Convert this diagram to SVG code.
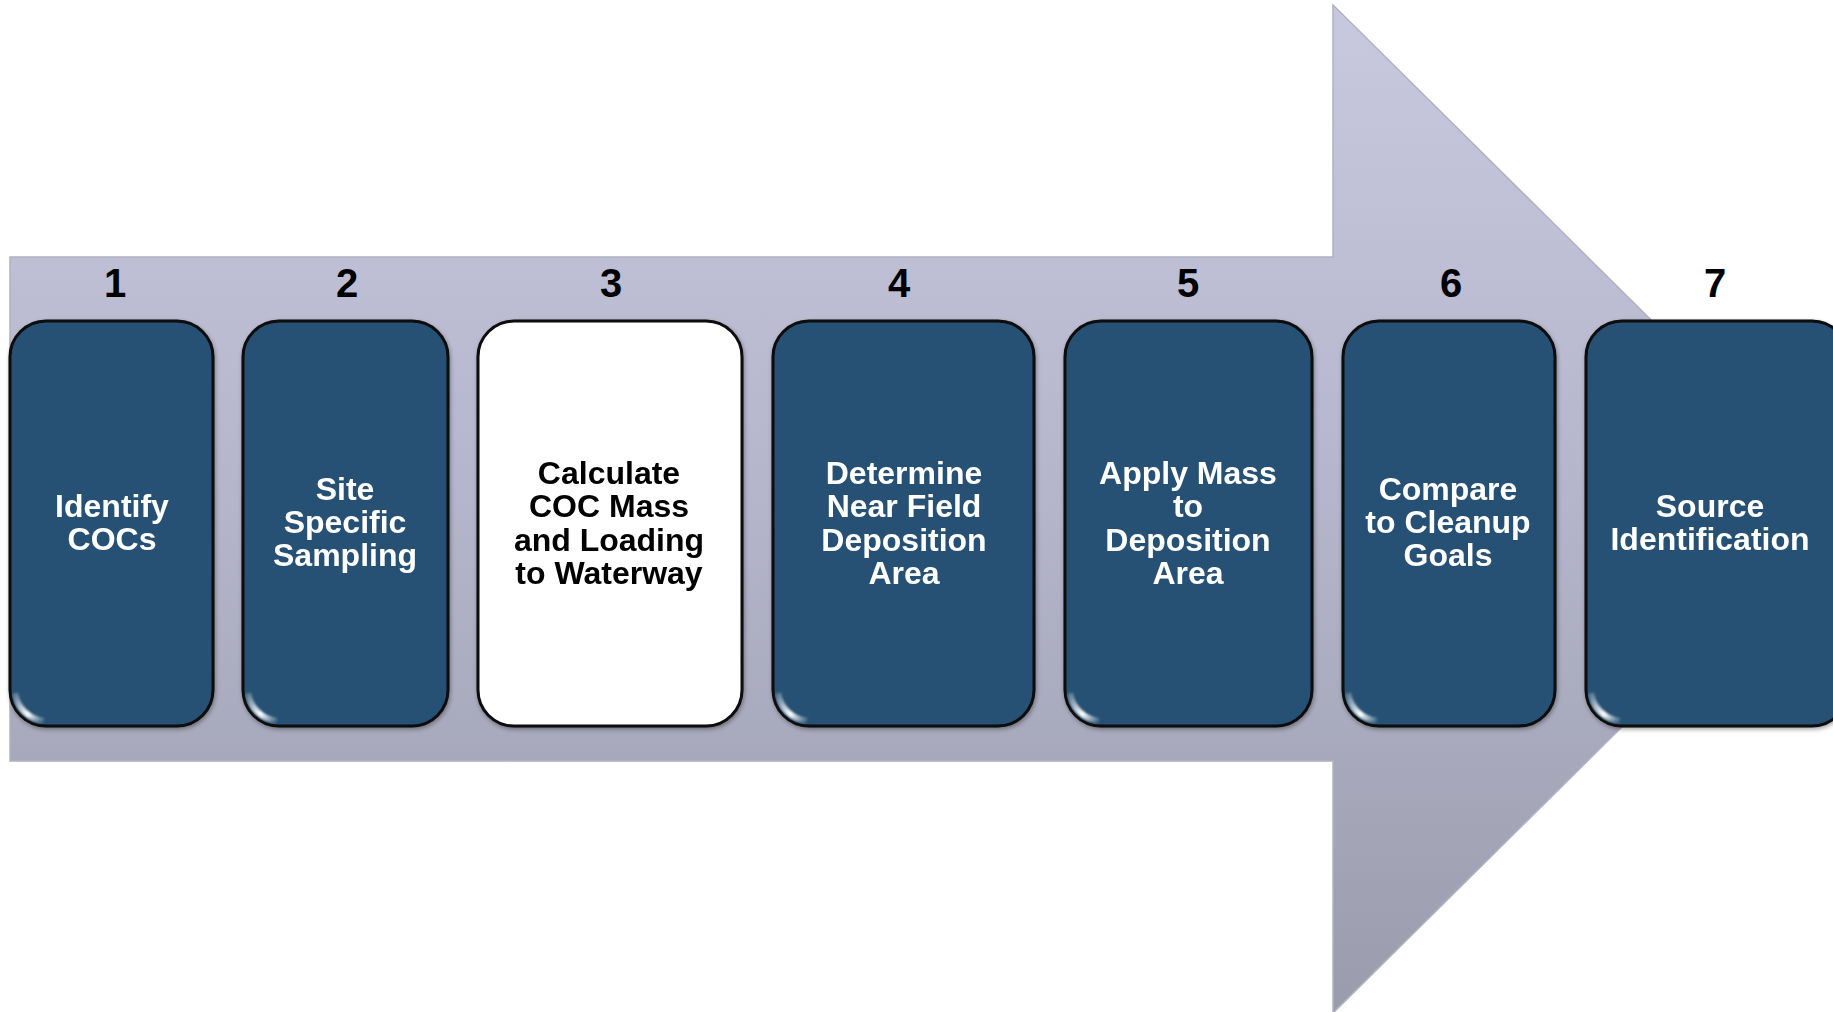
<svg xmlns="http://www.w3.org/2000/svg" width="1833" height="1012" viewBox="0 0 1833 1012">
<defs>
<linearGradient id="arrowGrad" x1="0" y1="5" x2="0" y2="1013" gradientUnits="userSpaceOnUse">
<stop offset="0" stop-color="#C8C9DF"/>
<stop offset="0.5" stop-color="#B4B5CA"/>
<stop offset="1" stop-color="#9A9CAC"/>
</linearGradient>
<linearGradient id="glare" x1="0" y1="0" x2="1" y2="1">
<stop offset="0" stop-color="#ffffff" stop-opacity="0.2"/>
<stop offset="0.6" stop-color="#ffffff" stop-opacity="1"/>
<stop offset="1" stop-color="#ffffff" stop-opacity="0.1"/>
</linearGradient>
<filter id="soft" x="-20%" y="-20%" width="140%" height="140%"><feGaussianBlur stdDeviation="1"/></filter>
<filter id="shadow" x="-10%" y="-10%" width="120%" height="120%"><feDropShadow dx="1" dy="2" stdDeviation="2" flood-color="#000" flood-opacity="0.35"/></filter>
</defs>
<style>
.box{fill:#265174;stroke:#0a0a0a;stroke-width:3}
.wbox{fill:#ffffff;stroke:#0a0a0a;stroke-width:3}
.num{font-family:"Liberation Sans",Arial,sans-serif;font-weight:bold;font-size:40px;fill:#000;text-anchor:middle}
.lbl{font-family:"Liberation Sans",Arial,sans-serif;font-weight:bold;font-size:32px;fill:#fff;text-anchor:middle}
.dark{fill:#000}
.hiTop{fill:none;stroke:#8DB3D6;stroke-width:3;opacity:0.8}
.hiSide{fill:none;stroke:#A9C9E4;stroke-width:2.5;opacity:0.7}
.gl{fill:none;stroke:url(#glare);stroke-width:6}
</style>
<rect x="0" y="0" width="1833" height="1012" fill="#ffffff"/>
<g id="arrow">
<polygon points="10,257 1333,257 1333,5 1842,509 1333,1013 1333,761 10,761" fill="url(#arrowGrad)" stroke="#B0B1C2" stroke-width="1.5"/>
</g>
<g id="connectors"></g>
<g id="numbers">
<text class="num" x="115" y="297">1</text>
<text class="num" x="347" y="297">2</text>
<text class="num" x="611" y="297">3</text>
<text class="num" x="899" y="297">4</text>
<text class="num" x="1188" y="297">5</text>
<text class="num" x="1451" y="297">6</text>
<text class="num" x="1715" y="297">7</text>
</g>
<g id="node1" filter="url(#shadow)">
<rect class="box" x="10" y="321" width="203" height="405" rx="36"/>
<path class="hiTop" filter="url(#soft)" d="M36 326 H187"/>
<path class="hiSide" filter="url(#soft)" d="M208 357 V690"/>
<path class="gl" filter="url(#soft)" d="M15 693 A33 33 0 0 0 44 721"/>
<text class="lbl" x="112" y="517">Identify</text>
<text class="lbl" x="112" y="550">COCs</text>
</g>
<g id="node2" filter="url(#shadow)">
<rect class="box" x="243" y="321" width="205" height="405" rx="36"/>
<path class="hiTop" filter="url(#soft)" d="M269 326 H422"/>
<path class="hiSide" filter="url(#soft)" d="M443 357 V690"/>
<path class="gl" filter="url(#soft)" d="M248 693 A33 33 0 0 0 277 721"/>
<text class="lbl" x="345" y="500">Site</text>
<text class="lbl" x="345" y="533">Specific</text>
<text class="lbl" x="345" y="566">Sampling</text>
</g>
<g id="node3" filter="url(#shadow)">
<rect class="wbox" x="478" y="321" width="264" height="405" rx="36"/>
<path fill="none" stroke="#9a9a9a" stroke-width="2" opacity="0.6" filter="url(#soft)" d="M737 357 V690"/>
<text class="lbl dark" x="609" y="484">Calculate</text>
<text class="lbl dark" x="609" y="517">COC Mass</text>
<text class="lbl dark" x="609" y="551">and Loading</text>
<text class="lbl dark" x="609" y="584">to Waterway</text>
</g>
<g id="node4" filter="url(#shadow)">
<rect class="box" x="773" y="321" width="261" height="405" rx="36"/>
<path class="hiTop" filter="url(#soft)" d="M799 326 H1008"/>
<path class="hiSide" filter="url(#soft)" d="M1029 357 V690"/>
<path class="gl" filter="url(#soft)" d="M778 693 A33 33 0 0 0 807 721"/>
<text class="lbl" x="904" y="484">Determine</text>
<text class="lbl" x="904" y="517">Near Field</text>
<text class="lbl" x="904" y="551">Deposition</text>
<text class="lbl" x="904" y="584">Area</text>
</g>
<g id="node5" filter="url(#shadow)">
<rect class="box" x="1065" y="321" width="247" height="405" rx="36"/>
<path class="hiTop" filter="url(#soft)" d="M1091 326 H1286"/>
<path class="hiSide" filter="url(#soft)" d="M1307 357 V690"/>
<path class="gl" filter="url(#soft)" d="M1070 693 A33 33 0 0 0 1099 721"/>
<text class="lbl" x="1188" y="484">Apply Mass</text>
<text class="lbl" x="1188" y="517">to</text>
<text class="lbl" x="1188" y="551">Deposition</text>
<text class="lbl" x="1188" y="584">Area</text>
</g>
<g id="node6" filter="url(#shadow)">
<rect class="box" x="1343" y="321" width="212" height="405" rx="36"/>
<path class="hiTop" filter="url(#soft)" d="M1369 326 H1529"/>
<path class="hiSide" filter="url(#soft)" d="M1550 357 V690"/>
<path class="gl" filter="url(#soft)" d="M1348 693 A33 33 0 0 0 1377 721"/>
<text class="lbl" x="1448" y="500">Compare</text>
<text class="lbl" x="1448" y="533">to Cleanup</text>
<text class="lbl" x="1448" y="566">Goals</text>
</g>
<g id="node7" filter="url(#shadow)">
<rect class="box" x="1586" y="321" width="262" height="405" rx="36"/>
<path class="hiTop" filter="url(#soft)" d="M1612 326 H1822"/>
<path class="gl" filter="url(#soft)" d="M1591 693 A33 33 0 0 0 1620 721"/>
<text class="lbl" x="1710" y="517">Source</text>
<text class="lbl" x="1710" y="550">Identification</text>
</g>
</svg>
